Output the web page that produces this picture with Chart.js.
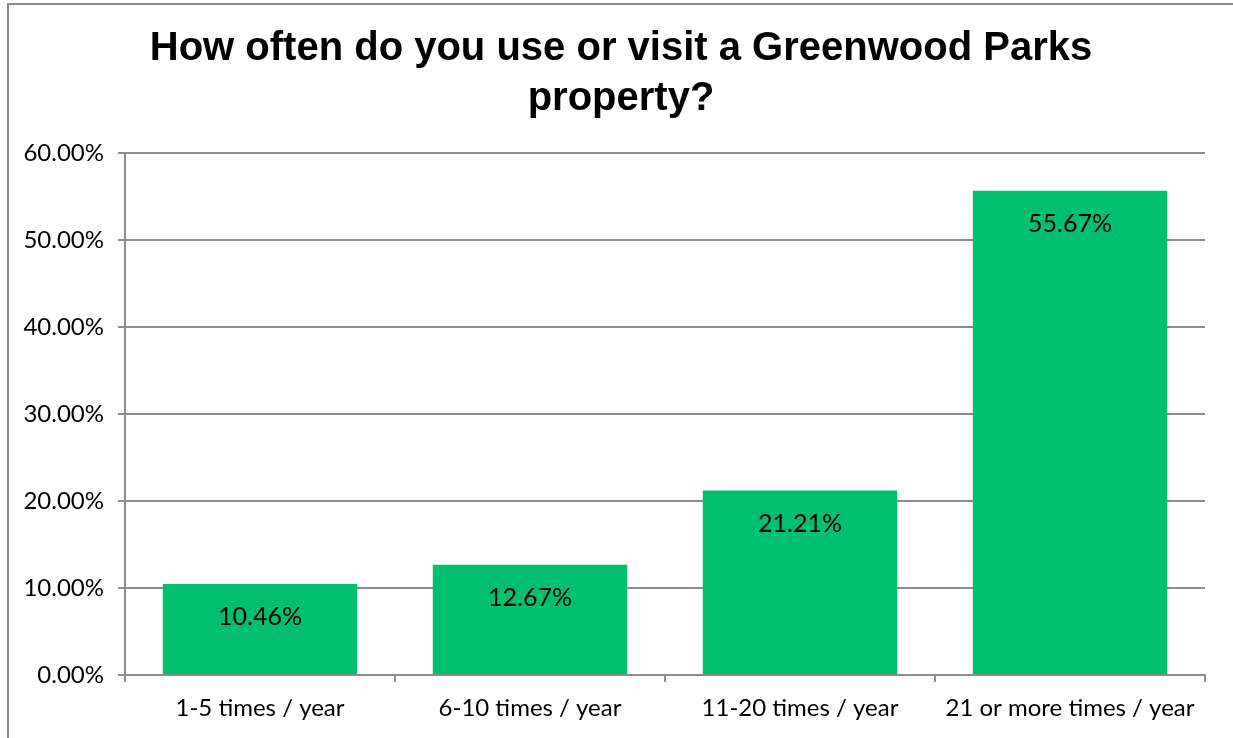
<!DOCTYPE html>
<html>
<head>
<meta charset="utf-8">
<script src="https://cdn.jsdelivr.net/npm/chart.js@4"></script>
<style>
  html, body { margin: 0; padding: 0; background: #fff; overflow: hidden; }
  #frame { position: absolute; left: 7px; top: 3px; width: 2000px; height: 2000px;
           border-left: 2px solid #8c8c8c; border-top: 2px solid #8c8c8c; }
  #wrap { position: absolute; left: 0; top: 0; width: 1233px; height: 738px; }
</style>
</head>
<body>
<div id="frame"></div>
<div id="wrap"><canvas id="visitChart"></canvas></div>
<script>
  // data
  const categories = ['1-5 times / year', '6-10 times / year', '11-20 times / year', '21 or more times / year'];
  const shares = [10.46, 12.67, 21.21, 55.67];
  const yTicks = [0, 10, 20, 30, 40, 50, 60];

  const gray = '#8c8c8c';

  // draws the value inside the top end of each bar
  const barLabels = {
    id: 'barLabels',
    afterDatasetsDraw(chart) {
      const ctx = chart.ctx;
      ctx.save();
      ctx.font = '25px Lato';
      ctx.fillStyle = '#000';
      ctx.textAlign = 'center';
      ctx.textBaseline = 'middle';
      chart.getDatasetMeta(0).data.forEach((bar, i) => {
        ctx.fillText(shares[i].toFixed(2) + '%', bar.x, bar.y + 33);
      });
      ctx.restore();
    }
  };

  Chart.defaults.font.family = 'Lato';
  Chart.defaults.color = '#000';

  new Chart(document.getElementById('visitChart'), {
    type: 'bar',
    data: {
      labels: categories,
      datasets: [{
        data: shares,
        backgroundColor: '#00BF6F',
        categoryPercentage: 1,
        barPercentage: 0.72
      }]
    },
    options: {
      responsive: true,
      maintainAspectRatio: false,
      animation: false,
      layout: { padding: { left: 9, right: 0, top: 0, bottom: 0 } },
      plugins: {
        legend: { display: false },
        tooltip: { enabled: false },
        title: {
          display: true,
          text: ['How often do you use or visit a Greenwood Parks', 'property?'],
          font: { family: 'Liberation Sans', size: 40, weight: 'bold', lineHeight: 1.25 },
          color: '#000',
          padding: { top: 24, bottom: 29 }
        }
      },
      scales: {
        x: {
          grid: { drawOnChartArea: false, offset: true, color: gray, lineWidth: 2, tickLength: 7 },
          border: { color: gray, width: 2 },
          ticks: { font: { size: 24 }, padding: 12 },
          afterFit(s) { s.height = 63; }
        },
        y: {
          min: 0,
          max: 60,
          afterBuildTicks(s) { s.ticks = yTicks.map(v => ({ value: v })); },
          grid: { color: gray, lineWidth: 2, tickLength: 7 },
          border: { color: gray, width: 2 },
          ticks: { font: { size: 24 }, padding: 14, callback: v => v.toFixed(2) + '%' },
          afterFit(s) { s.width = 116; }
        },
        // empty right-hand margin so the title centres on the whole frame
        yRight: {
          position: 'right',
          grid: { display: false },
          border: { display: false },
          ticks: { display: false },
          afterFit(s) { s.width = 28; }
        }
      }
    },
    plugins: [barLabels]
  });
</script>
</body>
</html>
